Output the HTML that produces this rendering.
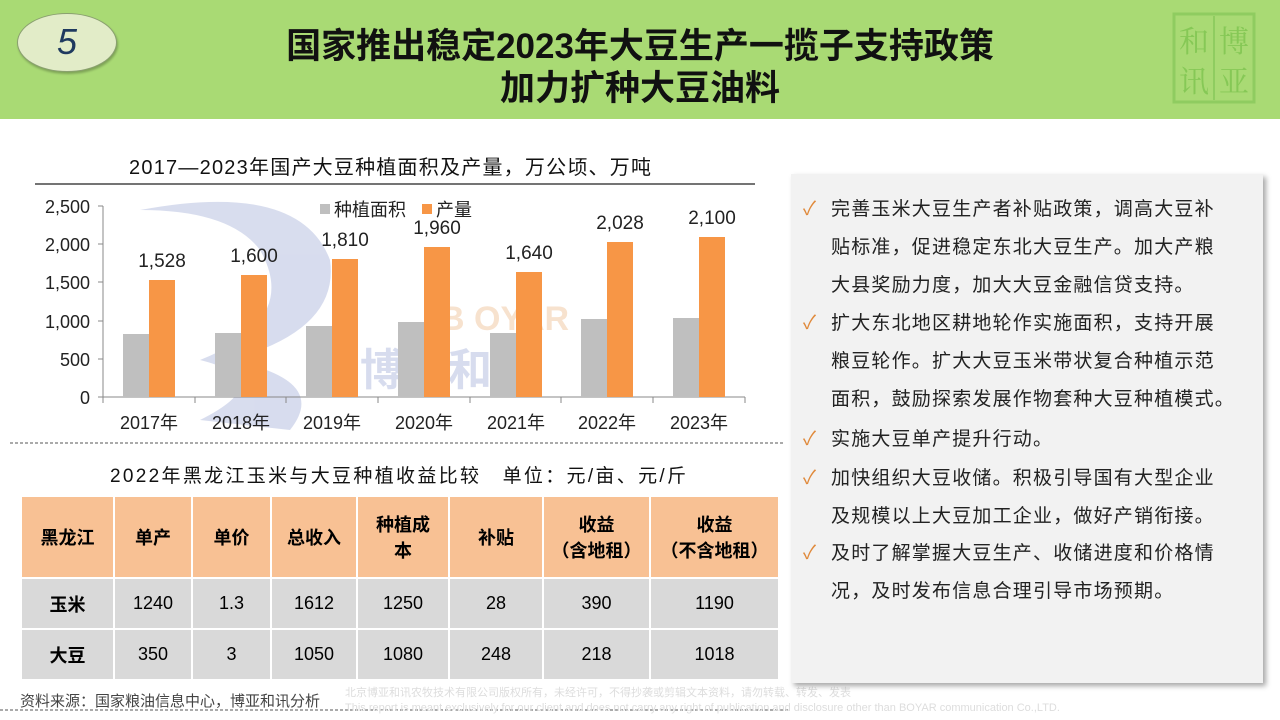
<!DOCTYPE html>
<html><head><meta charset="utf-8"><style>
body{margin:0;width:1280px;height:720px;position:relative;overflow:hidden;background:#fff;font-family:"Liberation Sans","Noto Sans CJK SC",sans-serif;}
.hdr{position:absolute;left:0;top:0;width:1280px;height:119px;background:#a9da74;}
.oval{position:absolute;left:17px;top:13px;width:98px;height:57px;border-radius:50%;background:#e2ecc8;border:1px solid #8aa070;box-shadow:1px 2px 2px rgba(0,0,0,.25);}
.oval span{position:absolute;left:0;right:0;top:7px;text-align:center;font-size:36px;font-style:italic;color:#1f3a5f;}
.t{position:absolute;left:0;width:1280px;text-align:center;font-size:35px;font-weight:bold;color:#111;}
.panel{position:absolute;left:791px;top:174px;width:472px;height:509px;background:#f2f2f2;box-shadow:3px 3px 5px rgba(0,0,0,.35);}
.ln{position:absolute;left:40px;font-size:19px;color:#222;white-space:nowrap;letter-spacing:1.2px;}
.ck{position:absolute;left:12px;font-size:19px;color:#e08a3c;}
table{position:absolute;left:20px;top:495px;width:758px;table-layout:fixed;border-collapse:collapse;font-size:18px;}
td{text-align:center;border:2px solid #fff;padding:0;}
tr.h td{background:#f8c194;font-weight:bold;height:80px;}
tr.r td{background:#d9d9d9;height:49px;}
tr.r td:first-child{font-weight:bold;}
</style></head><body>
<div class="hdr"></div>
<div class="oval"><span>5</span></div>
<div class="t" style="top:18px">国家推出稳定2023年大豆生产一揽子支持政策</div>
<div class="t" style="top:60px">加力扩种大豆油料</div>
<svg style="position:absolute;left:1172px;top:12px" width="84" height="92" viewBox="0 0 84 92">
<rect x="2" y="2" width="80" height="88" fill="none" stroke="#8fcc60" stroke-width="3"/>
<line x1="42" y1="4" x2="42" y2="88" stroke="#8fcc60" stroke-width="2"/>
<text x="22" y="40" font-size="30" fill="#86c856" text-anchor="middle" font-family="Noto Serif CJK SC,serif">和</text>
<text x="62" y="40" font-size="30" fill="#86c856" text-anchor="middle" font-family="Noto Serif CJK SC,serif">博</text>
<text x="22" y="80" font-size="30" fill="#86c856" text-anchor="middle" font-family="Noto Serif CJK SC,serif">讯</text>
<text x="62" y="80" font-size="30" fill="#86c856" text-anchor="middle" font-family="Noto Serif CJK SC,serif">亚</text>
</svg>

<svg style="position:absolute;left:0;top:0" width="790" height="720">
<g font-family="Liberation Sans,Noto Sans CJK SC,sans-serif">
<text x="390" y="174" font-size="20" text-anchor="middle" fill="#111" textLength="522">2017—2023年国产大豆种植面积及产量，万公顷、万吨</text>
<line x1="35" y1="184" x2="755" y2="184" stroke="#222" stroke-width="1.2"/>
<g opacity="0.3">
<path d="M140 210 Q300 180 330 260 Q340 330 230 360 Q330 380 290 430 L200 420 Q280 380 200 360 Q300 320 260 250 Q230 210 140 210Z" fill="#7e8fc8"/>
<text x="360" y="385" font-size="44" fill="#7e8fc8" font-weight="bold">博亚和讯</text>
<text x="440" y="330" font-size="34" fill="#e7a060" font-weight="bold">B OYAR</text>
</g>
<g font-size="18" fill="#222" text-anchor="end">
<text x="90" y="213">2,500</text><text x="90" y="251">2,000</text><text x="90" y="289">1,500</text>
<text x="90" y="328">1,000</text><text x="90" y="366">500</text><text x="90" y="404">0</text>
</g>
<line x1="103" y1="206" x2="103" y2="397" stroke="#888"/>
<line x1="98" y1="397" x2="745" y2="397" stroke="#888"/>
<g stroke="#888">
<line x1="98" y1="206" x2="103" y2="206"/><line x1="98" y1="244" x2="103" y2="244"/><line x1="98" y1="282" x2="103" y2="282"/><line x1="98" y1="321" x2="103" y2="321"/><line x1="98" y1="359" x2="103" y2="359"/>
<line x1="103" y1="397" x2="103" y2="403"/><line x1="195" y1="397" x2="195" y2="403"/><line x1="286" y1="397" x2="286" y2="403"/><line x1="378" y1="397" x2="378" y2="403"/><line x1="470" y1="397" x2="470" y2="403"/><line x1="561" y1="397" x2="561" y2="403"/><line x1="653" y1="397" x2="653" y2="403"/><line x1="745" y1="397" x2="745" y2="403"/>
</g>
<g fill="#bfbfbf">
<rect x="123" y="334" width="26" height="63"/><rect x="215" y="333" width="26" height="64"/><rect x="306" y="326" width="26" height="71"/><rect x="398" y="322" width="26" height="75"/><rect x="490" y="333" width="26" height="64"/><rect x="581" y="319" width="26" height="78"/><rect x="673" y="318" width="26" height="79"/>
</g>
<g fill="#f79646">
<rect x="149" y="280" width="26" height="117"/><rect x="241" y="275" width="26" height="122"/><rect x="332" y="259" width="26" height="138"/><rect x="424" y="247" width="26" height="150"/><rect x="516" y="272" width="26" height="125"/><rect x="607" y="242" width="26" height="155"/><rect x="699" y="237" width="26" height="160"/>
</g>
<g font-size="19" fill="#222" text-anchor="middle">
<text x="162" y="267">1,528</text><text x="254" y="262">1,600</text><text x="345" y="246">1,810</text><text x="437" y="234">1,960</text><text x="529" y="259">1,640</text><text x="620" y="229">2,028</text><text x="712" y="224">2,100</text>
</g>
<g font-size="18" fill="#222" text-anchor="middle">
<text x="149" y="429">2017年</text><text x="241" y="429">2018年</text><text x="332" y="429">2019年</text><text x="424" y="429">2020年</text><text x="516" y="429">2021年</text><text x="607" y="429">2022年</text><text x="699" y="429">2023年</text>
</g>
<rect x="320" y="204" width="10" height="10" fill="#bfbfbf"/><text x="334" y="216" font-size="18" fill="#222">种植面积</text>
<rect x="422" y="204" width="10" height="10" fill="#f79646"/><text x="436" y="216" font-size="18" fill="#222">产量</text>
<line x1="10" y1="443" x2="785" y2="443" stroke="#555" stroke-dasharray="3,2"/>
<text x="398" y="482" font-size="19" text-anchor="middle" fill="#111" textLength="576">2022年黑龙江玉米与大豆种植收益比较　单位：元/亩、元/斤</text>
<line x1="0" y1="710" x2="1060" y2="710" stroke="#555" stroke-dasharray="3,2"/>
</g></svg>

<table>
<colgroup><col style="width:93px"><col style="width:78px"><col style="width:79px"><col style="width:86px"><col style="width:92px"><col style="width:94px"><col style="width:107px"><col style="width:129px"></colgroup>
<tr class="h"><td>黑龙江</td><td>单产</td><td>单价</td><td>总收入</td><td>种植成<br>本</td><td>补贴</td><td>收益<br>（含地租）</td><td>收益<br>（不含地租）</td></tr>
<tr class="r"><td>玉米</td><td>1240</td><td>1.3</td><td>1612</td><td>1250</td><td>28</td><td>390</td><td>1190</td></tr>
<tr class="r"><td>大豆</td><td>350</td><td>3</td><td>1050</td><td>1080</td><td>248</td><td>218</td><td>1018</td></tr>
</table>

<div style="position:absolute;left:20px;top:690px;font-size:15px;color:#444">资料来源：国家粮油信息中心，博亚和讯分析</div>
<div style="position:absolute;left:345px;top:684px;font-size:11px;color:#ddd">北京博亚和讯农牧技术有限公司版权所有，未经许可，不得抄袭或剪辑文本资料，请勿转载、转发、发表</div>
<div style="position:absolute;left:345px;top:702px;font-size:11px;color:#ddd">This report is meant exclusively for our client and does not carry any right of publication and disclosure other than BOYAR communication Co.,LTD.</div>

<div class="panel">
<span class="ck" style="top:20px">✓</span><div class="ln" style="top:20px">完善玉米大豆生产者补贴政策，调高大豆补</div>
<div class="ln" style="top:58px">贴标准，促进稳定东北大豆生产。加大产粮</div>
<div class="ln" style="top:96px">大县奖励力度，加大大豆金融信贷支持。</div>
<span class="ck" style="top:134px">✓</span><div class="ln" style="top:134px">扩大东北地区耕地轮作实施面积，支持开展</div>
<div class="ln" style="top:172px">粮豆轮作。扩大大豆玉米带状复合种植示范</div>
<div class="ln" style="top:210px">面积，鼓励探索发展作物套种大豆种植模式。</div>
<span class="ck" style="top:250px">✓</span><div class="ln" style="top:250px">实施大豆单产提升行动。</div>
<span class="ck" style="top:289px">✓</span><div class="ln" style="top:289px">加快组织大豆收储。积极引导国有大型企业</div>
<div class="ln" style="top:327px">及规模以上大豆加工企业，做好产销衔接。</div>
<span class="ck" style="top:364px">✓</span><div class="ln" style="top:364px">及时了解掌握大豆生产、收储进度和价格情</div>
<div class="ln" style="top:402px">况，及时发布信息合理引导市场预期。</div>
</div>
</body></html>
